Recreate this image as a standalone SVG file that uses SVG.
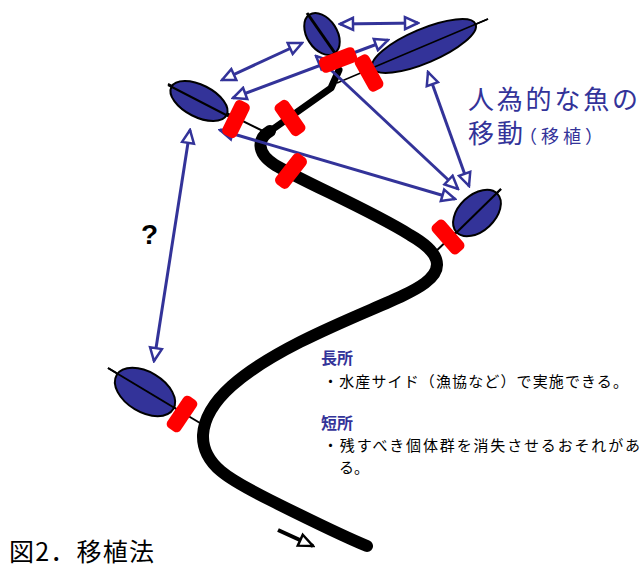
<svg xmlns="http://www.w3.org/2000/svg" width="643" height="568" viewBox="0 0 643 568">
<defs>
<style>
.river{fill:none;stroke:#000;stroke-linecap:round;stroke-linejoin:round}
.axis{stroke:#000;fill:none}
.fish{fill:#333399;stroke:#000;stroke-width:2}
.bar{fill:#ff0000}
.arr{stroke:#333399;stroke-width:3;fill:none;marker-start:url(#ah);marker-end:url(#ah)}
.jp{font-family:"Noto Sans CJK JP","Noto Sans CJK SC",sans-serif}
.blue{fill:#333399}
</style>
<marker id="ah" viewBox="-2 -2 17 16" refX="13" refY="6" markerWidth="17" markerHeight="16" markerUnits="userSpaceOnUse" orient="auto-start-reverse">
<path d="M0,0 L13,6 L0,12 Z" fill="#fff" stroke="#333399" stroke-width="2.5"/>
</marker>
<marker id="bh" viewBox="-2 -2 18 16" refX="14" refY="6" markerWidth="18" markerHeight="16" markerUnits="userSpaceOnUse" orient="auto">
<path d="M0,0 L14,6 L0,12 Z" fill="#fff" stroke="#000" stroke-width="2.5"/>
</marker>
</defs>
<g id="river">
<path class="river" stroke-width="12" d="M 270,131 C 258,138 255,152 275,165 C 310,185 370,210 410,235 C 440,252 445,268 425,283 C 405,298 360,312 300,342 C 245,370 205,400 203,435 C 202,465 230,480 270,500 C 310,520 340,535 367,546"/>
<path class="river" stroke-width="7" d="M 266,134 L 331,88 L 339,70"/>
</g>
<g id="axes">
<line class="axis" stroke-width="2" x1="168" y1="84" x2="267" y2="133"/>
<line class="axis" stroke-width="1.5" x1="337" y1="83" x2="488" y2="19"/>
<line class="axis" stroke-width="2" x1="501" y1="189" x2="431" y2="256"/>
<line class="axis" stroke-width="2" x1="108" y1="368" x2="205" y2="426"/>
</g>
<g id="fish-left"><ellipse class="fish" cx="199" cy="101" rx="31" ry="16" transform="rotate(27 199 101)"/><line class="axis" stroke-width="2" x1="168" y1="85" x2="230" y2="117"/></g>
<g id="fish-top-small"><ellipse class="fish" cx="322" cy="34" rx="23" ry="15" transform="rotate(57 322 34)"/><line class="axis" stroke-width="3" x1="307" y1="13" x2="337" y2="56"/></g>
<g id="fish-top-big"><ellipse class="fish" cx="424" cy="46" rx="56" ry="17" transform="rotate(-23 424 46)"/><line class="axis" stroke-width="1.5" x1="372" y1="68" x2="488" y2="19"/></g>
<g id="fish-right"><ellipse class="fish" cx="477" cy="213" rx="28" ry="18" transform="rotate(-43 477 213)"/><line class="axis" stroke-width="2" x1="501" y1="189" x2="455" y2="234"/></g>
<g id="fish-bottom"><ellipse class="fish" cx="145" cy="392" rx="33" ry="20" transform="rotate(31 145 392)"/><line class="axis" stroke-width="2" x1="108" y1="368" x2="178" y2="410"/></g>
<g id="connectors">
<line class="arr" x1="222" y1="80" x2="302" y2="43"/>
<line class="arr" x1="340" y1="24" x2="418" y2="23"/>
<line class="arr" x1="233" y1="98" x2="388" y2="40"/>
<line class="arr" x1="316" y1="56" x2="458" y2="189"/>
<line class="arr" x1="428" y1="72" x2="469" y2="186"/>
<line class="arr" x1="220" y1="130" x2="455" y2="199"/>
<line class="arr" x1="190" y1="130" x2="154" y2="361"/>
</g>
<g id="bars">
<rect class="bar" x="-8" y="-19" width="16" height="38" rx="5" transform="translate(236 119) rotate(26)"/>
<rect class="bar" x="-8" y="-19" width="16" height="38" rx="5" transform="translate(290 118) rotate(-35)"/>
<rect class="bar" x="-8" y="-19" width="16" height="38" rx="5" transform="translate(291 171) rotate(38)"/>
<rect class="bar" x="-8" y="-19" width="16" height="38" rx="5" transform="translate(338 60) rotate(69)"/>
<rect class="bar" x="-8" y="-19" width="16" height="38" rx="5" transform="translate(369 73) rotate(-29)"/>
<rect class="bar" x="-8" y="-19" width="16" height="38" rx="5" transform="translate(448 237) rotate(-41)"/>
<rect class="bar" x="-8" y="-19" width="16" height="38" rx="5" transform="translate(182 414) rotate(34)"/>
</g>
<g id="flow-arrow">
<line x1="278" y1="530" x2="313" y2="546" stroke="#000" stroke-width="4" marker-end="url(#bh)"/>
</g>
<g id="labels">
<text class="jp blue" x="468" y="109" font-size="26" textLength="170">人為的な魚の</text>
<text class="jp blue" x="468" y="143" font-size="26" textLength="55">移動</text>
<text class="jp blue" x="519" y="143" font-size="18" textLength="84">（移植）</text>
<text x="141" y="244" font-family="Liberation Sans, sans-serif" font-weight="bold" font-size="28" fill="#000">?</text>
<text class="jp blue" x="321" y="364" font-size="16" font-weight="bold">長所</text>
<text class="jp" x="323" y="387" font-size="15" fill="#000" textLength="305">・水産サイド（漁協など）で実施できる。</text>
<text class="jp blue" x="321" y="429" font-size="16" font-weight="bold">短所</text>
<text class="jp" x="323" y="451" font-size="15" fill="#000" textLength="317">・残すべき個体群を消失させるおそれがあ</text>
<text class="jp" x="339" y="473" font-size="15" fill="#000">る。</text>
<text class="jp" x="9" y="561" font-size="25" fill="#000" textLength="145">図2．移植法</text>
</g>
</svg>
